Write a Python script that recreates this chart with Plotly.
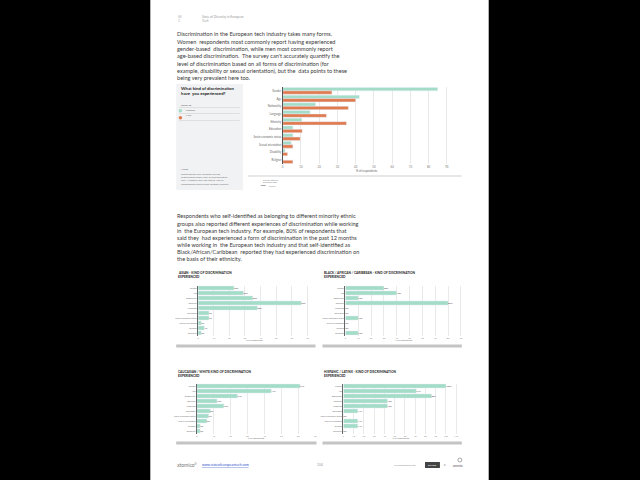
import plotly.graph_objects as go

W, H = 640, 480
FONT = "Lato"
TEAL = "#A3DCC7"
ORANGE = "#E07B50"
GRID = "#E9E9E9"
TXT = "#3A3A3A"

# ---------------- data ----------------
main_categories = ["Gender", "Age", "Nationality", "Language", "Ethnicity", "Education",
                   "Socio-economic status", "Sexual orientation", "Disability", "Religion"]
women_values = [85, 42, 18, 15, 10.5, 5.6, 5.6, 4.7, 1.3, 0]
men_values = [27, 40, 36, 24, 35, 10.7, 9.6, 5.6, 2.7, 5.6]

eth_categories = ["Gender", "Age", "Nationality", "Ethnicity", "Language", "Education",
                  "Socio-economic status", "Sexual orientation", "Religion", "Disability"]
asian_values = [23, 29, 35, 66, 38, 7, 7, 2, 4, 2]
black_values = [30, 40, 10, 80, 0, 0, 10, 0, 0, 10]
white_values = [61, 44, 24, 12, 16, 8, 7, 6, 2, 2]
hispanic_values = [100, 71, 86, 43, 43, 14, 0, 14, 14, 0]

main_ticks = [0, 10, 20, 30, 40, 50, 60, 70, 80, 90]

para1 = [
    "Discrimination in the European tech industry takes many forms.",
    "Women  respondents most commonly report having experienced",
    "gender-based  discrimination, while men most commonly report",
    "age-based discrimination.  The survey can't accurately quantify the",
    "level of discrimination based on all forms of discrimination (for",
    "example, disability or sexual orientation), but the  data points to these",
    "being very prevalent here too.",
]
para2 = [
    "Respondents who self-identified as belonging to different minority ethnic",
    "groups also reported different experiences of discrimination while working",
    "in  the European tech industry. For example, 80% of respondents that",
    "said they  had experienced a form of discrimination in the past 12 months",
    "while working in  the European tech industry and that self-identified as",
    "Black/African/Caribbean  reported they had experienced discrimination on",
    "the basis of their ethnicity.",
]
note_lines = [
    "Respondents who reported having",
    "experienced some form of discrimination",
    "only. Numbers may not add to 100 as",
    "respondents could select multiple choices.",
]


def fx(px):
    return px / W


def fy(py):
    return 1 - py / H


fig = go.Figure()
shapes = []
ann = []


def text(x, y, s, size=5.5, color=TXT, xanchor="left", bold=False, yanchor="middle"):
    if bold:
        s = "<b>" + s + "</b>"
    ann.append(dict(x=fx(x), y=fy(y), xref="paper", yref="paper", text=s, showarrow=False,
                    xanchor=xanchor, yanchor=yanchor, align="left",
                    font=dict(family=FONT, size=size, color=color)))


def rect(x0, y0, x1, y1, fill, line=None, layer="below"):
    shapes.append(dict(type="rect", xref="paper", yref="paper", x0=fx(x0), x1=fx(x1),
                       y0=fy(y1), y1=fy(y0), fillcolor=fill, layer=layer,
                       line=dict(width=0 if line is None else 0.6, color=line or fill)))


def hline(x0, x1, y, color="#BBBBBB", width=0.6):
    shapes.append(dict(type="line", xref="paper", yref="paper", x0=fx(x0), x1=fx(x1),
                       y0=fy(y), y1=fy(y), line=dict(color=color, width=width)))


# page
rect(150, 0, 490, 480, "white")

# header
text(176, 17, "55", size=3.2, color="#999999")
text(176, 21, "1", size=3.2, color="#999999")
text(200, 17, "State of Diversity in European", size=3.2, color="#999999")
text(200, 21, "Tech", size=3.2, color="#999999")

for i, line in enumerate(para1):
    text(175, 34 + i * 7.3, line, size=5.6)
for i, line in enumerate(para2):
    text(175, 216 + i * 7.0, line, size=5.6)

# main chart side panel
rect(176, 84, 243, 190, "#F1F2F3")
text(179, 88, "What kind of discrimination", size=4.3, color="#222222", bold=True)
text(179, 93.5, "have  you experienced?", size=4.3, color="#222222", bold=True)
text(179, 104.5, "LEGEND", size=2.6, color="#666666")
hline(179, 240, 107.5, "#CCCCCC", 0.5)
text(184, 109.5, "Women", size=2.6, color="#666666")
hline(179, 240, 113.5, "#CCCCCC", 0.5)
text(184, 115.5, "Men", size=2.6, color="#666666")
hline(179, 240, 120.5, "#CCCCCC", 0.5)
shapes.append(dict(type="circle", xref="paper", yref="paper", x0=fx(178.5), x1=fx(182),
                   y0=fy(112.5), y1=fy(109), fillcolor=TEAL, line=dict(width=0)))
shapes.append(dict(type="circle", xref="paper", yref="paper", x0=fx(178.5), x1=fx(182),
                   y0=fy(119.5), y1=fy(116), fillcolor=ORANGE, line=dict(width=0)))
text(179, 169, "NOTE", size=2.6, color="#666666")
for i, line in enumerate(note_lines):
    text(179, 174 + i * 3.2, line, size=2.6, color="#777777")

# main chart underline and source
hline(248, 463, 176, "#BBBBBB", 0.7)
text(261, 179.5, "Source: State of", size=2.2, color="#888888")
text(261, 182.5, "European Tech", size=2.2, color="#888888")
hline(261, 266, 185.5, "#555555", 0.5)
text(267, 185.5, "Survey", size=2.2, color="#888888")

# ---------------- main chart ----------------
fig.add_trace(go.Bar(y=main_categories, x=women_values, orientation="h", marker_color=TEAL,
                     name="Women", xaxis="x", yaxis="y", showlegend=False))
fig.add_trace(go.Bar(y=main_categories, x=men_values, orientation="h", marker_color=ORANGE,
                     name="Men", xaxis="x", yaxis="y", showlegend=False))

layout_axes = {}
layout_axes["xaxis"] = dict(domain=[fx(283), fx(283 + 92 * 1.833)], range=[0, 92], anchor="y",
                            tickvals=main_ticks, gridcolor=GRID, gridwidth=0.6, zeroline=False,
                            tickfont=dict(size=2.8, color="#777777", family=FONT),
                            title=dict(text="% of respondents", font=dict(size=2.8, color="#666666", family=FONT),
                                       standoff=1), ticklen=0, fixedrange=True)
layout_axes["yaxis"] = dict(domain=[fy(164), fy(87)], anchor="x", autorange="reversed",
                            tickfont=dict(size=2.8, color="#666666", family=FONT),
                            showline=True, linecolor="#555555", linewidth=0.7, ticklen=0,
                            ticks="", fixedrange=True)

# ---------------- small charts ----------------
small = [
    ("ASIAN - KIND OF DISCRIMINATION", asian_values, 198, 1.57, 72, 285.5, 335.5, 176, 272.5, 346, 316),
    ("BLACK / AFRICAN / CARIBBEAN - KIND OF DISCRIMINATION", black_values, 346, 1.29, 91, 285.5, 335.5, 323, 272.5, 346, 463),
    ("CAUCASIAN / WHITE KIND OF DISCRIMINATION", white_values, 196.7, 1.7, 70, 383.5, 433.5, 176, 371.5, 443, 317),
    ("HISPANIC / LATINX - KIND OF DISCRIMINATION", hispanic_values, 344, 1.03, 112, 383.5, 433.5, 323, 371.5, 443, 463),
]

for k, (title, vals, x0, ppu, xmax, ytop, ybot, tx, ty, bary, barx1) in enumerate(small):
    xa = "x%d" % (k + 2)
    ya = "y%d" % (k + 2)
    fig.add_trace(go.Bar(y=eth_categories, x=vals, orientation="h", marker_color=TEAL,
                         text=["%d%%" % v for v in vals], textposition="outside",
                         textfont=dict(size=2.2, color="#444444", family=FONT), cliponaxis=False,
                         xaxis=xa, yaxis=ya, showlegend=False, width=0.82))
    layout_axes["xaxis%d" % (k + 2)] = dict(
        domain=[fx(x0), fx(x0 + xmax * ppu)], range=[0, xmax], anchor=ya, dtick=10,
        gridcolor=GRID, gridwidth=0.5, zeroline=False, ticklen=0,
        tickfont=dict(size=2.2, color="#888888", family=FONT),
        title=dict(text="% of respondents", font=dict(size=2.2, color="#777777", family=FONT), standoff=1),
        fixedrange=True)
    layout_axes["yaxis%d" % (k + 2)] = dict(
        domain=[fy(ybot), fy(ytop)], anchor=xa, autorange="reversed", ticks="", ticklen=0,
        tickfont=dict(size=2.2, color="#777777", family=FONT), showline=True,
        linecolor="#666666", linewidth=0.5, fixedrange=True)
    text(tx, ty, title, size=3.2, color="#222222", bold=True)
    text(tx, ty + 4.0, "EXPERIENCED", size=3.2, color="#222222", bold=True)
    rect(tx, bary - 1.5, barx1, bary + 1.5, "#C4C4C4")

# ---------------- footer ----------------
text(175, 465, "atomico°", size=5, color="#777777")
text(200, 465, "<u>www.stateofeuropeantech.com</u>", size=3.4, color="#3355CC")
text(320, 465, "104", size=3.4, color="#999999", xanchor="center")
text(393, 465, "In Partnership with", size=2.6, color="#888888")
rect(426, 462, 441, 468, "#444444", layer="above")
text(433.5, 465, "SLACK", size=2.6, color="white", xanchor="center", bold=True)
text(446, 465, "x", size=3, color="#777777", xanchor="center")
text(452, 465, "omnia", size=3.6, color="#555555")
shapes.append(dict(type="circle", xref="paper", yref="paper", x0=fx(459), x1=fx(463),
                   y0=fy(462), y1=fy(458), line=dict(color="#555555", width=0.5)))

fig.update_layout(
    width=W, height=H, margin=dict(l=0, r=0, t=0, b=0),
    paper_bgcolor="black", plot_bgcolor="white",
    barmode="group", bargap=0.12, bargroupgap=0.0,
    font=dict(family=FONT, color=TXT),
    shapes=shapes, annotations=ann, showlegend=False,
    **layout_axes,
)

fig.write_html("out.html", config={"displayModeBar": False},
               post_script="document.body.style.margin='0';document.body.style.overflow='hidden';")
